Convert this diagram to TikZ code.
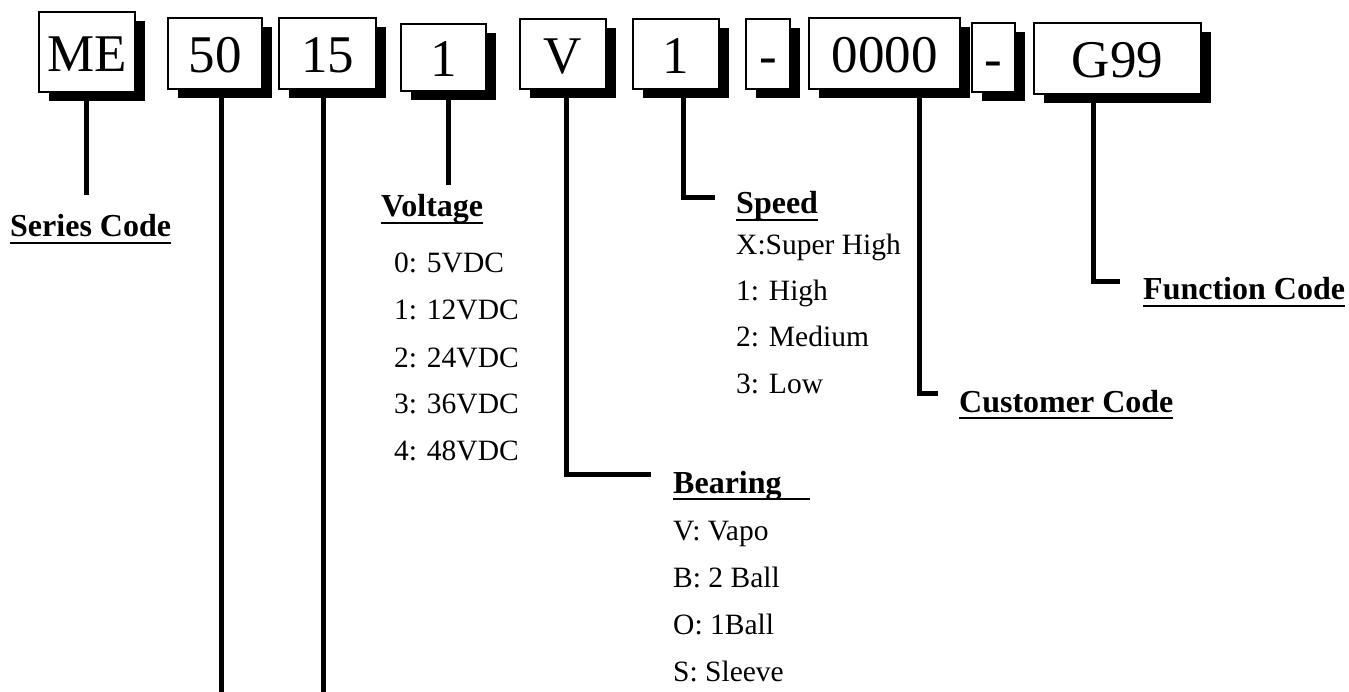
\documentclass[tikz,border=0pt]{standalone}
\usepackage{fontspec}
\setmainfont{Liberation Serif}
\usetikzlibrary{shadows}
\newsavebox\myulbox
\newcommand\myul[2][0pt]{\sbox\myulbox{#2\hspace{#1}}\rlap{\rule[-7pt]{\wd\myulbox}{2pt}}#2}
\begin{document}
\begin{tikzpicture}[x=1pt,y=-1pt,
  cbox/.style={draw, line width=2pt, fill=white, inner sep=0pt,
    text height=39pt, text depth=0pt, font=\fontsize{53}{60}\selectfont,
    drop shadow={shadow xshift=10pt, shadow yshift=-9pt, opacity=1, fill=black}},
  conn/.style={line width=5pt, line join=miter},
  lbl/.style={anchor=base west, inner sep=0pt, font=\fontsize{32}{38}\selectfont\bfseries},
  item/.style={anchor=base west, inner sep=0pt, font=\fontsize{29.5}{35}\selectfont}]
\useasboundingbox (0,0) rectangle (1349,692);
% code boxes
\node[cbox, minimum width=96pt, minimum height=80pt] (bME) at (87,52) {ME};
\node[cbox, minimum width=94pt, minimum height=71pt] (b50) at (215,53.5) {50};
\node[cbox, minimum width=97pt, minimum height=71pt] (b15) at (327.5,53.5) {15};
\node[cbox, minimum width=85pt, minimum height=67pt] (bVo) at (443.5,57.5) {1};
\node[cbox, minimum width=86pt, minimum height=70pt] (bV) at (563,54) {V};
\node[cbox, minimum width=86pt, minimum height=70pt] (bSp) at (676,54) {1};
\node[cbox, minimum width=44pt, minimum height=70pt] (bD1) at (768,54) {-};
\node[cbox, minimum width=151pt, minimum height=71pt] (bCu) at (884.5,53.5) {0000};
\node[cbox, minimum width=43pt, minimum height=69pt] (bD2) at (993.5,57.5) {-};
\node[cbox, minimum width=167pt, minimum height=71pt] (bFu) at (1117.5,58.5) {G99};
% labels
\node[lbl] (lSeries) at (10,237) {\myul{Series Code}};
\node[lbl] (lVolt) at (381,217) {\myul{Voltage}};
\node[item] (v0) at (394,273) {0: 5VDC};
\node[item] (v1) at (394,320) {1: 12VDC};
\node[item] (v2) at (394,367) {2: 24VDC};
\node[item] (v3) at (394,413) {3: 36VDC};
\node[item] (v4) at (394,460) {4: 48VDC};
\node[lbl] (lSpeed) at (736,214) {\myul{Speed}};
\node[item] (s0) at (736,255) {X:Super High};
\node[item] (s1) at (736,301) {1: High};
\node[item] (s2) at (736,347) {2: Medium};
\node[item] (s3) at (736,393) {3: Low};
\node[lbl] (lBear) at (673,493) {\myul[28pt]{Bearing}};
\node[item] (r0) at (673,540) {V: Vapo};
\node[item] (r1) at (673,587) {B: 2 Ball};
\node[item] (r2) at (673,634) {O: 1Ball};
\node[item] (r3) at (673,681) {S: Sleeve};
\node[lbl] (lCust) at (959,412) {\myul{Customer Code}};
\node[lbl] (lFunc) at (1143,300) {\myul{Function Code}};
% connector coordinates
\coordinate (eME) at (86,195);
\coordinate (e50) at (221,692);
\coordinate (e15) at (323,692);
\coordinate (eVo) at (448,185);
\coordinate (kV) at (566,474);
\coordinate (eV) at (651,474);
\coordinate (kSp) at (683,198);
\coordinate (eSp) at (715,198);
\coordinate (kCu) at (919,393);
\coordinate (eCu) at (938,393);
\coordinate (kFu) at (1093,282);
\coordinate (eFu) at (1120,282);
% connectors
\draw[conn] (bME.south -| eME) -- (eME);
\draw[conn] (b50.south -| e50) -- (e50);
\draw[conn] (b15.south -| e15) -- (e15);
\draw[conn] (bVo.south -| eVo) -- (eVo);
\draw[conn] (bV.south -| kV) -- (kV) -- (eV);
\draw[conn] (bSp.south -| kSp) -- (kSp) -- (eSp);
\draw[conn] (bCu.south -| kCu) -- (kCu) -- (eCu);
\draw[conn] (bFu.south -| kFu) -- (kFu) -- (eFu);
\end{tikzpicture}
\end{document}
